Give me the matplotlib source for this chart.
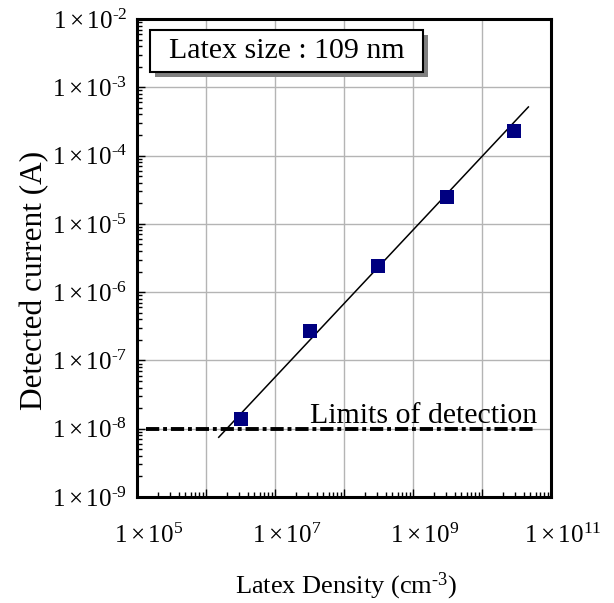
import numpy as np
import matplotlib
matplotlib.use("Agg")
import matplotlib.pyplot as plt
import matplotlib.transforms as mtransforms
from matplotlib.patches import Rectangle
from matplotlib.ticker import LogLocator, NullFormatter, FixedLocator

plt.rcParams['font.family'] = ['Liberation Serif', 'DejaVu Serif']
plt.rcParams['mathtext.fontset'] = 'custom'
plt.rcParams['mathtext.rm'] = 'Liberation Serif'
plt.rcParams['mathtext.it'] = 'Liberation Serif:italic'
plt.rcParams['mathtext.bf'] = 'Liberation Serif:bold'

# Data
density = [3.2e6, 3.2e7, 3.1e8, 3.1e9, 2.95e10]
current = [1.4e-8, 2.7e-7, 2.4e-6, 2.5e-5, 2.3e-4]
fit_x = [1.53e6, 4.7e10]
fit_y = [7.5e-9, 5.15e-4]
lod_x = [1.35e5, 5.5e10]
lod_y = [1e-8, 1e-8]
x_exponents = [5, 6, 7, 8, 9, 10, 11]
x_label_exponents = [5, 7, 9, 11]
y_exponents = [-9, -8, -7, -6, -5, -4, -3, -2]

fig = plt.figure(figsize=(6.14, 6.03), dpi=100)
ax = fig.add_axes([137/614, 1-497/603, 414/614, 478/603])

ax.set_xscale('log')
ax.set_yscale('log')
ax.set_xlim(1e5, 1e11)
ax.set_ylim(1e-9, 1e-2)

ax.xaxis.set_major_locator(FixedLocator([10.0**e for e in x_exponents]))
ax.yaxis.set_major_locator(FixedLocator([10.0**e for e in y_exponents]))
ax.xaxis.set_minor_locator(LogLocator(base=10, subs=np.arange(2, 10), numticks=20))
ax.yaxis.set_minor_locator(LogLocator(base=10, subs=np.arange(2, 10), numticks=20))
ax.xaxis.set_minor_formatter(NullFormatter())
ax.yaxis.set_minor_formatter(NullFormatter())

def lab(e):
    if e < 0:
        return r'$1\times10^{\text{-}%d}$' % (-e)
    return r'$1\times10^{%d}$' % e

ax.set_xticklabels([lab(e) if e in x_label_exponents else '' for e in x_exponents])
ax.set_yticklabels([lab(e) for e in y_exponents])

ax.grid(True, which='major', color='#b4b4b4', lw=1.0, zorder=0)
ax.set_axisbelow(True)

ax.tick_params(which='major', direction='in', length=6, width=1.0, labelsize=18,
               top=False, right=False)
ax.tick_params(axis='x', which='major', pad=19)
ax.tick_params(axis='y', which='major', pad=7)
ax.tick_params(which='minor', direction='in', length=3.5, width=1.0,
               top=False, right=False)

for sp in ax.spines.values():
    sp.set_linewidth(2.2)
    sp.set_color('black')

# shift x tick labels right like the reference
offset = mtransforms.ScaledTranslation(12/100, 0, fig.dpi_scale_trans)
for t in ax.get_xticklabels():
    t.set_transform(t.get_transform() + offset)

# fit line
ax.plot(fit_x, fit_y, color='black', lw=1.1, zorder=3)
# limit of detection
ln, = ax.plot(lod_x, lod_y, color='black', lw=2.8, zorder=3, solid_capstyle='butt',
              dash_capstyle='butt')
ln.set_dashes((3.4, 1, 1, 1))
# data
ax.plot(density, current, ls='none', marker='s', markersize=9.5, color='#000080',
        markeredgewidth=0, zorder=4)

ax.text(6.3e10, 1.22e-8, 'Limits of detection', ha='right', va='baseline',
        fontsize=21.5, zorder=5)

# box with shadow
bx0, bx1 = (150-137)/414, (423-137)/414
by0, by1 = (497-72)/478, (497-30)/478
sh = mtransforms.offset_copy(ax.transAxes, fig=fig, x=5, y=-5, units='dots')
ax.add_patch(Rectangle((bx0, by0), bx1-bx0, by1-by0, transform=sh,
                       facecolor='#808080', edgecolor='none', zorder=6, clip_on=False))
ax.add_patch(Rectangle((bx0, by0), bx1-bx0, by1-by0, transform=ax.transAxes,
                       facecolor='white', edgecolor='black', lw=1.5, zorder=7, clip_on=False))
ax.text((bx0+bx1)/2, (by0+by1)/2, 'Latex size : 109 nm', transform=ax.transAxes,
        ha='center', va='center', fontsize=21.5, zorder=8)

ax.set_ylabel('Detected current (A)', fontsize=22.5)
ax.yaxis.set_label_coords(-0.212, 0.454)
ax.set_xlabel(r'Latex Density (cm$^{\text{-}3}$)', fontsize=19)
ax.xaxis.set_label_coords(0.505, -0.155)

fig.savefig('out.png', dpi=100)
